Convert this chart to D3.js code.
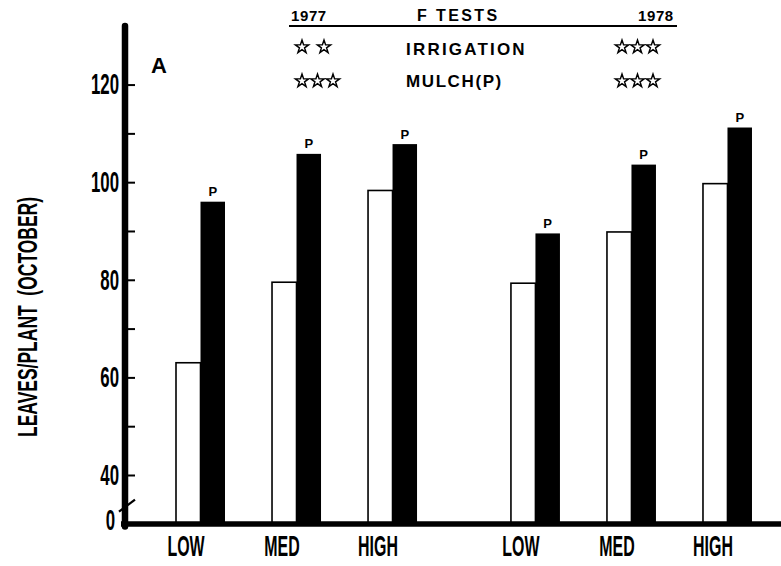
<!DOCTYPE html>
<html>
<head>
<meta charset="utf-8">
<script src="https://cdn.jsdelivr.net/npm/d3@7/dist/d3.min.js"></script>
<style>
  html, body { margin: 0; padding: 0; background: #fff; }
  svg { display: block; }
  text { font-family: "Liberation Sans", Arial, Helvetica, sans-serif; fill: #000; }
</style>
</head>
<body>
<script>
// Leaves per plant in October, by irrigation level, with and without mulch
const years = ["1977", "1978"];
const levels = ["LOW", "MED", "HIGH"];
const control1977 = [63, 79.5, 98.3];
const mulch1977 = [96, 105.8, 107.8];
const control1978 = [79.3, 89.8, 99.7];
const mulch1978 = [89.5, 103.6, 111.2];
const yTicks = [40, 50, 60, 70, 80, 90, 100, 110, 120];
const yLabelled = [40, 60, 80, 100, 120];
const fTestRows = ["IRRIGATION", "MULCH(P)"];
const irrigationStars = [2, 3];   // 1977, 1978
const mulchStars = [3, 3];        // 1977, 1978

const rows = [];
years.forEach((yr, i) => {
  const ctrl = i === 0 ? control1977 : control1978;
  const mul = i === 0 ? mulch1977 : mulch1978;
  levels.forEach((lv, j) => rows.push({ year: yr, level: lv, control: ctrl[j], mulch: mul[j] }));
});

const W = 781, H = 566;
const svg = d3.select("body").append("svg").attr("width", W).attr("height", H);

// Broken value axis: 0 sits just under the 40 tick
const y = d3.scaleLinear().domain([0, 40, 132]).range([524, 475, 26]);
const x0 = d3.scaleBand().domain(years).range([176, 799]).paddingInner(0.14).paddingOuter(0);
const x1 = d3.scaleBand().domain(levels).range([0, x0.bandwidth()]);
const barW = 24.5;
const axisX = 125;

// Bars
const g = svg.append("g");
const groups = g.selectAll("g.grp").data(rows).join("g")
  .attr("class", "grp")
  .attr("transform", d => `translate(${x0(d.year) + x1(d.level)},0)`);

groups.append("rect")
  .attr("x", 0)
  .attr("y", d => y(d.control))
  .attr("width", barW)
  .attr("height", d => y(0) - y(d.control))
  .attr("fill", "#fff")
  .attr("stroke", "#000")
  .attr("stroke-width", 1.6);

groups.append("rect")
  .attr("x", barW)
  .attr("y", d => y(d.mulch))
  .attr("width", barW)
  .attr("height", d => y(0) - y(d.mulch))
  .attr("fill", "#000");

groups.append("text")
  .attr("x", barW * 1.5)
  .attr("y", d => y(d.mulch) - 5.5)
  .attr("text-anchor", "middle")
  .attr("font-size", 13)
  .attr("font-weight", "bold")
  .text("P");

// Category labels in condensed lettering
groups.append("text")
  .attr("text-anchor", "middle")
  .attr("font-size", 29)
  .attr("font-weight", "bold")
  .attr("transform", `translate(10,556) scale(0.55,1)`)
  .text(d => d.level);

// Baseline
svg.append("line")
  .attr("x1", axisX - 4).attr("x2", W)
  .attr("y1", y(0)).attr("y2", y(0))
  .attr("stroke", "#000").attr("stroke-width", 5.5);

// Value axis
const yAxis = d3.axisLeft(y)
  .tickValues(yTicks)
  .tickSizeInner(-10)
  .tickSizeOuter(0)
  .tickPadding(6)
  .tickFormat(d => yLabelled.includes(d) ? d : "");
const ya = svg.append("g").attr("transform", `translate(${axisX},0)`).call(yAxis);
ya.select(".domain").remove();
ya.selectAll(".tick line").attr("stroke", "#000").attr("stroke-width", 2);
ya.selectAll(".tick text")
  .attr("font-family", "\"Liberation Sans\", Arial, sans-serif")
  .attr("font-size", 29)
  .attr("font-weight", "bold")
  .attr("fill", "#000")
  .attr("x", -6 / 0.58)
  .attr("transform", "scale(0.58,1)");

svg.append("line")
  .attr("x1", axisX).attr("x2", axisX)
  .attr("y1", y.range()[2]).attr("y2", y(0) + 2.5)
  .attr("stroke", "#000").attr("stroke-width", 6.5)
  .attr("stroke-linecap", "round");

// Axis break mark
svg.append("line")
  .attr("x1", axisX - 6).attr("x2", axisX + 10)
  .attr("y1", y(15) + 6).attr("y2", y(15) - 6)
  .attr("stroke", "#000").attr("stroke-width", 2.2);

svg.append("text")
  .attr("text-anchor", "end")
  .attr("font-size", 29)
  .attr("font-weight", "bold")
  .attr("transform", `translate(115,${y(0) + 6}) scale(0.58,1)`)
  .text("0");

// Axis title
svg.append("text")
  .attr("transform", "translate(36.5,317) rotate(-90)")
  .attr("text-anchor", "middle")
  .attr("font-size", 27)
  .attr("font-weight", "bold")
  .attr("textLength", 240)
  .attr("lengthAdjust", "spacingAndGlyphs")
  .style("white-space", "pre")
  .text("LEAVES/PLANT  (OCTOBER)");

// Panel letter
svg.append("text")
  .attr("x", 151).attr("y", 73)
  .attr("font-size", 22)
  .attr("font-weight", "bold")
  .text("A");

// F-test summary block
const hdr = svg.append("g");
hdr.append("text").attr("x", 291).attr("y", 21).attr("font-size", 15)
  .attr("font-weight", "bold").attr("letter-spacing", 0.6).text(years[0]);
hdr.append("text").attr("x", 417).attr("y", 21).attr("font-size", 16)
  .attr("font-weight", "bold").attr("letter-spacing", 2.4).text("F TESTS");
hdr.append("text").attr("x", 638).attr("y", 21).attr("font-size", 15)
  .attr("font-weight", "bold").attr("letter-spacing", 0.6).text(years[1]);
hdr.append("line").attr("x1", 289).attr("x2", 677).attr("y1", 26).attr("y2", 26)
  .attr("stroke", "#000").attr("stroke-width", 2);

const rowY = [55, 87];
const starRowY = [47, 81];
hdr.selectAll("text.row").data(fTestRows).join("text")
  .attr("class", "row")
  .attr("x", 406)
  .attr("y", (d, i) => rowY[i])
  .attr("font-size", 17)
  .attr("font-weight", "bold")
  .attr("letter-spacing", (d, i) => i === 0 ? 2.2 : 1.6)
  .text(d => d);

const starStartX = [302, 622];
const starStep = 15.5;
const starData = [];
[irrigationStars, mulchStars].forEach((counts, r) => {
  counts.forEach((n, yi) => {
    const step = n === 2 ? 22 : starStep;
    for (let k = 0; k < n; k++) starData.push({ x: starStartX[yi] + k * step, y: starRowY[r] });
  });
});
const star = d3.symbol().type(d3.symbolStar).size(55);
hdr.selectAll("path.star").data(starData).join("path")
  .attr("class", "star")
  .attr("transform", d => `translate(${d.x},${d.y})`)
  .attr("d", star)
  .attr("fill", "#fff")
  .attr("stroke", "#000")
  .attr("stroke-width", 1.4);
</script>
</body>
</html>
